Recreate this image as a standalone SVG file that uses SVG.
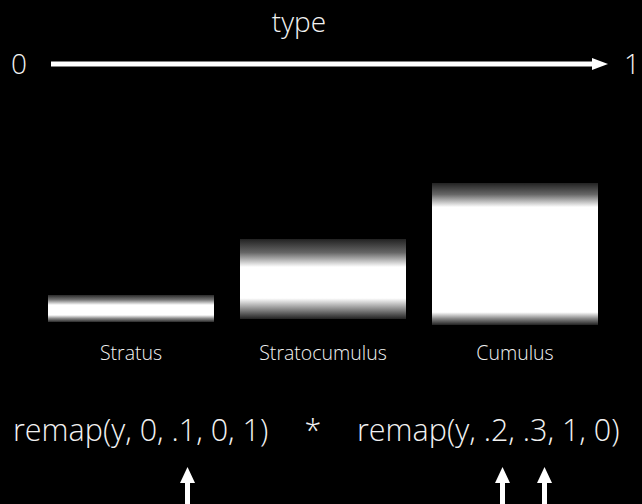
<svg xmlns="http://www.w3.org/2000/svg" width="642" height="504" viewBox="0 0 642 504">
<style>
text{font-family:"Open Sans","Noto Sans","Liberation Sans",sans-serif;font-weight:300;fill:#f2f2f2}
.big{font-size:30.5px}
.top{font-size:28px}
.lab{font-size:19.5px}
.ln{stroke:#fff;fill:none}
.hd{fill:#fff}
</style>
<defs>
<linearGradient id="gS" x1="0" y1="0" x2="0" y2="1">
<stop offset="0" stop-color="#2a2a2a"/>
<stop offset="0.18" stop-color="#777"/>
<stop offset="0.37" stop-color="#fff"/>
<stop offset="0.74" stop-color="#fff"/>
<stop offset="0.87" stop-color="#888"/>
<stop offset="1" stop-color="#2a2a2a"/>
</linearGradient>
<linearGradient id="gSC" x1="0" y1="0" x2="0" y2="1">
<stop offset="0" stop-color="#222"/>
<stop offset="0.17" stop-color="#666"/>
<stop offset="0.35" stop-color="#fff"/>
<stop offset="0.74" stop-color="#fff"/>
<stop offset="0.86" stop-color="#999"/>
<stop offset="1" stop-color="#222"/>
</linearGradient>
<linearGradient id="gC" x1="0" y1="0" x2="0" y2="1">
<stop offset="0" stop-color="#222"/>
<stop offset="0.08" stop-color="#666"/>
<stop offset="0.17" stop-color="#fff"/>
<stop offset="0.91" stop-color="#fff"/>
<stop offset="0.955" stop-color="#888"/>
<stop offset="1" stop-color="#222"/>
</linearGradient>
</defs>
<rect width="642" height="504" fill="#000"/>
<g id="axis">
<text class="top" x="299" y="32" text-anchor="middle">type</text>
<text class="top" x="19" y="74" text-anchor="middle">0</text>
<text class="top" x="624" y="74">1</text>
</g>
<g id="stratus">
<rect x="48" y="295" width="166" height="27" fill="url(#gS)"/>
<text class="lab" x="131" y="360" text-anchor="middle">Stratus</text>
</g>
<g id="stratocumulus">
<rect x="240" y="239" width="166" height="80" fill="url(#gSC)"/>
<text class="lab" x="323" y="360" text-anchor="middle">Stratocumulus</text>
</g>
<g id="cumulus">
<rect x="432" y="183" width="166" height="142" fill="url(#gC)"/>
<text class="lab" x="515" y="360" text-anchor="middle">Cumulus</text>
</g>
<g id="formula">
<text class="big" x="13" y="441">remap(y, 0, .1, 0, 1)</text>
<text class="big" x="313" y="441" text-anchor="middle">*</text>
<text class="big" x="357" y="441">remap(y, .2, .3, 1, 0)</text>
</g>
<g id="connectors">
<line class="ln" x1="51" y1="64" x2="594" y2="64" stroke-width="5"/>
<polygon class="hd" points="592,58 608,64 592,70"/>
<line class="ln" x1="187.5" y1="480" x2="187.5" y2="504" stroke-width="5"/>
<polygon class="hd" points="180,483 187.5,467 195,483"/>
<line class="ln" x1="502.5" y1="480" x2="502.5" y2="504" stroke-width="5"/>
<polygon class="hd" points="495,483 502.5,467 510,483"/>
<line class="ln" x1="544.5" y1="480" x2="544.5" y2="504" stroke-width="5"/>
<polygon class="hd" points="537,483 544.5,467 552,483"/>
</g>
</svg>
